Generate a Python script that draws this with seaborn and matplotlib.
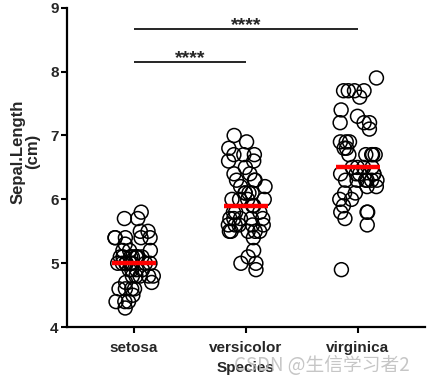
import numpy as np
import pandas as pd
import matplotlib
matplotlib.use("Agg")
import matplotlib.pyplot as plt
import seaborn as sns

# Sepal length (cm) per species, iris data
species = ["setosa", "versicolor", "virginica"]
setosa = [5.1, 4.9, 4.7, 4.6, 5.0, 5.4, 4.6, 5.0, 4.4, 4.9, 5.4, 4.8, 4.8, 4.3, 5.8, 5.7, 5.4,
          5.1, 5.7, 5.1, 5.4, 5.1, 4.6, 5.1, 4.8, 5.0, 5.0, 5.2, 5.2, 4.7, 4.8, 5.4, 5.2, 5.5,
          4.9, 5.0, 5.5, 4.9, 4.4, 5.1, 5.0, 4.5, 4.4, 5.0, 5.1, 4.8, 5.1, 4.6, 5.3, 5.0]
versicolor = [7.0, 6.4, 6.9, 5.5, 6.5, 5.7, 6.3, 4.9, 6.6, 5.2, 5.0, 5.9, 6.0, 6.1, 5.6, 6.7, 5.6,
              5.8, 6.2, 5.6, 5.9, 6.1, 6.3, 6.1, 6.4, 6.6, 6.8, 6.7, 6.0, 5.7, 5.5, 5.5, 5.8, 6.0,
              5.4, 6.0, 6.7, 6.3, 5.6, 5.5, 5.5, 6.1, 5.8, 5.0, 5.6, 5.7, 5.7, 6.2, 5.1, 5.7]
virginica = [6.3, 5.8, 7.1, 6.3, 6.5, 7.6, 4.9, 7.3, 6.7, 7.2, 6.5, 6.4, 6.8, 5.7, 5.8, 6.4, 6.5,
             7.7, 7.7, 6.0, 6.9, 5.6, 7.7, 6.3, 6.7, 7.2, 6.2, 6.1, 6.4, 7.2, 7.4, 7.9, 6.4, 6.3,
             6.1, 7.7, 6.3, 6.4, 6.0, 6.9, 6.7, 6.9, 5.8, 6.8, 6.7, 6.7, 6.3, 6.5, 6.2, 5.9]

# significance brackets: (from, to, height, label)
comparisons = [("setosa", "versicolor", 8.15, "****"),
               ("setosa", "virginica", 8.66, "****")]

df = pd.DataFrame({
    "Species": ["setosa"] * len(setosa) + ["versicolor"] * len(versicolor) + ["virginica"] * len(virginica),
    "Sepal.Length": setosa + versicolor + virginica,
})

sns.set_theme(style="ticks")
plt.rcParams["font.family"] = ["Liberation Sans", "DejaVu Sans"]

fig = plt.figure(figsize=(4.32, 3.84), dpi=100)
ax = fig.add_axes([0.155, 0.148, 0.829, 0.832])

np.random.seed(3)
sns.stripplot(data=df, x="Species", y="Sepal.Length", order=species, jitter=0.18,
              size=10, marker="o", facecolor="none", edgecolor="black", linewidth=1.1,
              color="black", ax=ax)
for coll in ax.collections:
    coll.set_facecolor("none")
    coll.set_edgecolor("black")

# median as a red bar, on top of the points
sns.boxplot(data=df, x="Species", y="Sepal.Length", order=species, width=0.4,
            showbox=False, showcaps=False, showfliers=False,
            whiskerprops={"visible": False},
            medianprops={"color": "red", "linewidth": 3.2, "solid_capstyle": "butt", "zorder": 5},
            ax=ax)

for a, b, h, lab in comparisons:
    x1, x2 = species.index(a), species.index(b)
    ax.plot([x1, x2], [h, h], color="black", lw=1.2, solid_capstyle="butt")
    ax.text((x1 + x2) / 2, h - 0.015, lab, ha="center", va="baseline", fontsize=14,
            fontweight="bold")

ax.set_xlim(-0.6, 2.6)
ax.set_ylim(4, 9)
ax.set_yticks([4, 5, 6, 7, 8, 9])
sns.despine(ax=ax)
for s in ["left", "bottom"]:
    ax.spines[s].set_linewidth(1.6)
    ax.spines[s].set_color("black")
ax.tick_params(width=1.5, length=4, color="black", labelsize=11, pad=2)
for t in ax.get_xticklabels() + ax.get_yticklabels():
    t.set_fontweight("bold")
ax.tick_params(axis="x", pad=6)
ax.set_xlabel("Species", fontsize=11, fontweight="bold", labelpad=4)
ax.set_ylabel("Sepal.Length\n(cm)", fontsize=12, fontweight="bold", linespacing=0.95)
ax.yaxis.set_label_coords(-0.075, 0.55)

fig.text(0.745, 0.048, "CSDN @生信学习者2", ha="center", va="center", fontsize=13.5,
         color="#b8b8b8", alpha=0.8, family=["Noto Sans CJK SC", "DejaVu Sans"])

fig.savefig("out.png", dpi=100)
